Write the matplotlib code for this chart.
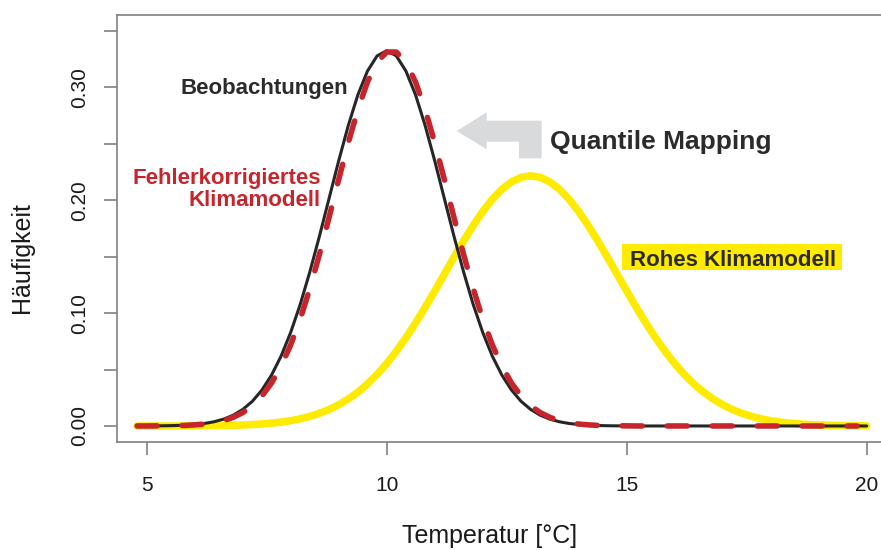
import matplotlib
matplotlib.use('Agg')
import matplotlib.pyplot as plt
from matplotlib.patches import Polygon, Rectangle
from matplotlib.transforms import IdentityTransform

plt.rcParams['font.family'] = ['Liberation Sans', 'DejaVu Sans']
plt.rcParams['lines.scale_dashes'] = False

# ---- data ----
temperature = [round(4.8 + 0.2 * i, 1) for i in range(77)]   # x grid 4.8 .. 20.0

beobachtungen = [
    0.0000, 0.0001, 0.0001, 0.0002, 0.0004, 0.0007, 0.0013, 0.0022, 0.0037, 0.0060,
    0.0095, 0.0146, 0.0218, 0.0318, 0.0450, 0.0619, 0.0829, 0.1079, 0.1367, 0.1683,
    0.2016, 0.2349, 0.2662, 0.2934, 0.3144, 0.3278, 0.3324, 0.3278, 0.3144, 0.2934,
    0.2662, 0.2349, 0.2016, 0.1683, 0.1367, 0.1079, 0.0829, 0.0619, 0.0450, 0.0318,
    0.0218, 0.0146, 0.0095, 0.0060, 0.0037, 0.0022, 0.0013, 0.0007, 0.0004, 0.0002,
    0.0001, 0.0001, 0.0000, 0.0000, 0.0000, 0.0000, 0.0000, 0.0000, 0.0000, 0.0000,
    0.0000, 0.0000, 0.0000, 0.0000, 0.0000, 0.0000, 0.0000, 0.0000, 0.0000, 0.0000,
    0.0000, 0.0000, 0.0000, 0.0000, 0.0000, 0.0000, 0.0000,
]

korrigiert = [
    0.0000, 0.0000, 0.0001, 0.0002, 0.0003, 0.0005, 0.0010, 0.0017, 0.0029, 0.0047,
    0.0076, 0.0118, 0.0179, 0.0265, 0.0380, 0.0530, 0.0719, 0.0949, 0.1219, 0.1522,
    0.1849, 0.2184, 0.2509, 0.2804, 0.3048, 0.3222, 0.3312, 0.3312, 0.3222, 0.3048,
    0.2804, 0.2509, 0.2184, 0.1849, 0.1522, 0.1219, 0.0949, 0.0719, 0.0530, 0.0380,
    0.0265, 0.0179, 0.0118, 0.0076, 0.0047, 0.0029, 0.0017, 0.0010, 0.0005, 0.0003,
    0.0002, 0.0001, 0.0000, 0.0000, 0.0000, 0.0000, 0.0000, 0.0000, 0.0000, 0.0000,
    0.0000, 0.0000, 0.0000, 0.0000, 0.0000, 0.0000, 0.0000, 0.0000, 0.0000, 0.0000,
    0.0000, 0.0000, 0.0000, 0.0000, 0.0000, 0.0000,
]

roh = [
    0.0000, 0.0000, 0.0000, 0.0000, 0.0000, 0.0001, 0.0001, 0.0002, 0.0003, 0.0004,
    0.0006, 0.0009, 0.0012, 0.0018, 0.0025, 0.0034, 0.0047, 0.0063, 0.0085, 0.0112,
    0.0146, 0.0188, 0.0239, 0.0300, 0.0372, 0.0456, 0.0553, 0.0661, 0.0781, 0.0911,
    0.1050, 0.1195, 0.1344, 0.1493, 0.1638, 0.1774, 0.1899, 0.2008, 0.2096, 0.2162,
    0.2202, 0.2216, 0.2202, 0.2162, 0.2096, 0.2008, 0.1899, 0.1774, 0.1638, 0.1493,
    0.1344, 0.1195, 0.1050, 0.0911, 0.0781, 0.0661, 0.0553, 0.0456, 0.0372, 0.0300,
    0.0239, 0.0188, 0.0146, 0.0112, 0.0085, 0.0063, 0.0047, 0.0034, 0.0025, 0.0018,
    0.0012, 0.0009, 0.0006, 0.0004, 0.0003, 0.0002, 0.0001,
]

x_ticks = [5, 10, 15, 20]
y_ticks = [0.00, 0.05, 0.10, 0.15, 0.20, 0.25, 0.30, 0.35]
y_tick_labels = ['0.00', '', '0.10', '', '0.20', '', '0.30', '']

# ---- figure ----
W, H = 881, 550
fig = plt.figure(figsize=(W / 100, H / 100), dpi=100)
ax = fig.add_axes([117 / W, 1 - 442 / H, 1 - 117 / W, (442 - 15) / H])
ax.set_xlim(4.381, 20.298)
ax.set_ylim(-0.0142, 0.364)

grey = '#808080'
for s in ['left', 'top', 'bottom']:
    ax.spines[s].set_color(grey)
    ax.spines[s].set_linewidth(1.2)
ax.spines['right'].set_visible(False)

ax.set_xticks(x_ticks)
ax.set_xticklabels([str(v) for v in x_ticks])
ax.set_yticks(y_ticks)
ax.set_yticklabels(y_tick_labels)
ax.tick_params(axis='both', direction='out', length=9.4, width=1.2, color=grey,
               labelsize=15, labelcolor='#1a1a1a')
ax.tick_params(axis='x', pad=15)
ax.tick_params(axis='y', pad=11)
for lab in ax.get_yticklabels():
    lab.set_rotation(90)
    lab.set_verticalalignment('center')

yellow = '#FFEB00'
red = '#C8242B'
dark = '#262626'

ax.plot(temperature, roh, color=yellow, lw=5.4, solid_capstyle='round', zorder=2)
ax.plot(temperature, beobachtungen, color=dark, lw=2.2, solid_capstyle='round', zorder=3)
ax.plot(temperature[:len(korrigiert)], korrigiert, color=red, lw=4.0,
        linestyle=(0, (14.4, 18)), dash_capstyle='round', zorder=4)

txt = '#2b2b2b'
ax.text(9.19, 0.2938, 'Beobachtungen', ha='right', va='baseline', fontsize=16,
        fontweight='bold', color=txt)
ax.text(8.63, 0.2139, 'Fehlerkorrigiertes', ha='right', va='baseline', fontsize=16,
        fontweight='bold', color=red)
ax.text(8.63, 0.1950, 'Klimamodell', ha='right', va='baseline', fontsize=16,
        fontweight='bold', color=red)
ax.text(13.40, 0.2449, 'Quantile Mapping', ha='left', va='baseline', fontsize=19,
        fontweight='bold', color=txt)
roh_pos = (15.07, 0.1419)
t_roh = ax.text(roh_pos[0], roh_pos[1], 'Rohes Klimamodell', ha='left', va='baseline',
                fontsize=16, fontweight='bold', color=txt, zorder=6)

# grey arrow (pixel coords of figure)
arrow_px = [(456.7, 131.0), (486.7, 112.3), (486.7, 120.7), (541.7, 120.7),
            (541.7, 158.3), (519.0, 158.3), (519.0, 141.7), (486.7, 141.7),
            (486.7, 149.3)]
arrow = Polygon([(x / W, 1 - y / H) for x, y in arrow_px], closed=True,
                transform=fig.transFigure, facecolor='#D9DADB', edgecolor='none')
fig.patches.append(arrow)

# axis labels
fig.text(22 / W, 1 - 257.5 / H, 'Häufigkeit', rotation=90, ha='center', va='center',
         fontsize=18, color='#1a1a1a')
fig.text(490 / W, 1 - 536 / H, 'Temperatur [°C]', ha='center', va='center',
         fontsize=18, color='#1a1a1a')

# yellow label box
fig.canvas.draw()
bb = t_roh.get_window_extent(fig.canvas.get_renderer())
base_y = ax.transData.transform(roh_pos)[1]
box = Rectangle((bb.x0 - 8, base_y - 4.7), bb.width + 14, 26.7,
                transform=IdentityTransform(), facecolor=yellow, edgecolor='none', zorder=5)
ax.add_artist(box)

fig.savefig('out.png', dpi=100)
